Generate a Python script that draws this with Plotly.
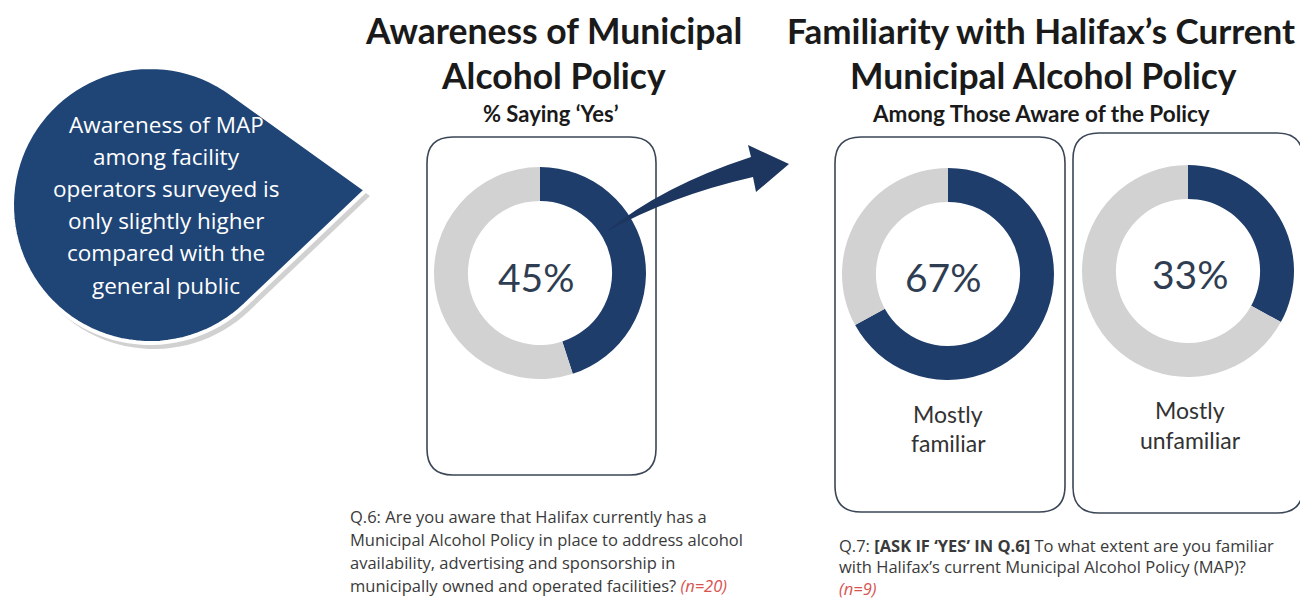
import numpy as np
import plotly.graph_objects as go

# page body has an 8px margin, so the figure is drawn 8px smaller and shifted
OFF = 8
W, H = 1308 - OFF, 601 - OFF

# values
aware_labels = ['Yes', 'No']
aware_values = [45, 55]
familiar_labels = ['Mostly familiar', 'Other']
familiar_values = [67, 33]
unfamiliar_labels = ['Mostly unfamiliar', 'Other']
unfamiliar_values = [33, 67]

NAVY = '#1f3d6b'
GREY = '#d2d2d2'
TXT = '#2f3d52'
FONT = 'Lato'
BODY = 'Open Sans'


def px(x):
    return (x - OFF) / W


def py(y):
    return 1 - (y - OFF) / H


def donut(labels, values, cx, cy, r=106):
    return go.Pie(labels=labels, values=values, hole=0.68, sort=False,
                  direction='clockwise', rotation=0,
                  marker=dict(colors=[NAVY, GREY], line=dict(width=0)),
                  textinfo='none', hoverinfo='skip', showlegend=False,
                  domain=dict(x=[px(cx - r), px(cx + r)], y=[py(cy + r), py(cy - r)]))


def rounded_rect(x0, y0, x1, y1, r):
    p = [
        f"M{px(x0 + r)},{py(y0)}", f"L{px(x1 - r)},{py(y0)}",
        f"Q{px(x1)},{py(y0)} {px(x1)},{py(y0 + r)}", f"L{px(x1)},{py(y1 - r)}",
        f"Q{px(x1)},{py(y1)} {px(x1 - r)},{py(y1)}", f"L{px(x0 + r)},{py(y1)}",
        f"Q{px(x0)},{py(y1)} {px(x0)},{py(y1 - r)}", f"L{px(x0)},{py(y0 + r)}",
        f"Q{px(x0)},{py(y0)} {px(x0 + r)},{py(y0)}", "Z"]
    return ' '.join(p)


def teardrop(cx, cy, r, tx, ty, dx=0, dy=0):
    # circle with a pointed tip, tangent lines from tip to circle
    d = np.hypot(tx - cx, ty - cy)
    phi = np.arctan2(ty - cy, tx - cx)
    a = np.arccos(r / d)
    t = np.linspace(phi + a, phi - a + 2 * np.pi, 80)
    xs = cx + r * np.cos(t) + dx
    ys = cy + r * np.sin(t) + dy
    p = [f"M{px(tx + dx)},{py(ty + dy)}"]
    p += [f"L{px(x)},{py(y)}" for x, y in zip(xs, ys)]
    p.append("Z")
    return ' '.join(p)


fig = go.Figure()
fig.add_trace(donut(aware_labels, aware_values, 540, 273))
fig.add_trace(donut(familiar_labels, familiar_values, 948, 274))
fig.add_trace(donut(unfamiliar_labels, unfamiliar_values, 1188, 271))

shapes = []
# frames around the donuts
for box in [(427, 137, 656, 475), (835, 137, 1065, 512), (1073, 133, 1303, 513)]:
    shapes.append(dict(type='path', path=rounded_rect(*box, 26), xref='paper', yref='paper',
                       line=dict(color='#3b4656', width=1.6), layer='below'))

# callout bubble
shapes.append(dict(type='path', path=teardrop(150, 205, 138, 366, 190, 4, 6), xref='paper', yref='paper',
                   fillcolor='rgba(0,0,0,0.18)', line=dict(width=0)))
shapes.append(dict(type='path', path=teardrop(150, 205, 138, 366, 190), xref='paper', yref='paper',
                   fillcolor='#1f4576', line=dict(color='white', width=4)))

# curved arrow from first donut to second panel
arrow = (f"M{px(606)},{py(232)} Q{px(662)},{py(186)} {px(751)},{py(157)} "
         f"L{px(748)},{py(145)} L{px(789)},{py(164)} L{px(756)},{py(192)} "
         f"L{px(753)},{py(177)} Q{px(670)},{py(196)} {px(606)},{py(232)} Z")
shapes.append(dict(type='path', path=arrow, xref='paper', yref='paper',
                   fillcolor='#1c3660', line=dict(width=0)))

ann = []


def text(x, y, s, size, color=TXT, bold=False, xanchor='center', family=FONT):
    if bold:
        s = f"<b>{s}</b>"
    ann.append(dict(x=px(x), y=py(y), xref='paper', yref='paper', text=s, showarrow=False,
                    xanchor=xanchor, yanchor='middle', align=xanchor if xanchor != 'center' else 'center',
                    font=dict(family=family, size=size, color=color)))


# titles
text(553, 30, 'Awareness of Municipal', 35.5, '#1a1a1a', True)
text(553, 76, 'Alcohol Policy', 35.5, '#1a1a1a', True)
text(551, 114, '% Saying ‘Yes’', 22, '#1a1a1a', True)
text(1041, 30, 'Familiarity with Halifax’s Current', 35, '#1a1a1a', True)
text(1043, 76, 'Municipal Alcohol Policy', 35.5, '#1a1a1a', True)
text(1041, 114, 'Among Those Aware of the Policy', 22.5, '#1a1a1a', True)

# donut centre values
text(536, 277, f"{aware_values[0]}%", 39)
text(943, 277, f"{familiar_values[0]}%", 39)
text(1190, 274, f"{unfamiliar_values[0]}%", 39)

# donut captions
text(948, 414, 'Mostly', 23, '#333333')
text(948, 443, 'familiar', 23, '#333333')
text(1190, 410, 'Mostly', 23, '#333333')
text(1190, 440, 'unfamiliar', 23, '#333333')

# callout text
callout = ['Awareness of MAP', 'among facility', 'operators surveyed is',
           'only slightly higher', 'compared with the', 'general public']
for i, line in enumerate(callout):
    text(166, 124 + 32.2 * i, line, 22.5, 'white', family=BODY)

# footnotes
RED = '#d9534f'
q6 = ['Q.6: Are you aware that Halifax currently has a',
      'Municipal Alcohol Policy in place to address alcohol',
      'availability, advertising and sponsorship in',
      f"municipally owned and operated facilities? <span style='color:{RED}'><i>(n=20)</i></span>"]
for i, line in enumerate(q6):
    text(348, 516 + 23.3 * i, line, 16.5, '#3a3a3a', xanchor='left', family=BODY)

q7 = ['Q.7: <b>[ASK IF ‘YES’ IN Q.6]</b> To what extent are you familiar',
      'with Halifax’s current Municipal Alcohol Policy (MAP)?',
      f"<span style='color:{RED}'><i>(n=9)</i></span>"]
for i, line in enumerate(q7):
    text(837, 545 + 21.5 * i, line, 16.5, '#3a3a3a', xanchor='left', family=BODY)

fig.update_layout(width=W, height=H, margin=dict(l=0, r=0, t=0, b=0),
                  paper_bgcolor='white', plot_bgcolor='white',
                  shapes=shapes, annotations=ann, showlegend=False)

fig.write_html("out.html")
